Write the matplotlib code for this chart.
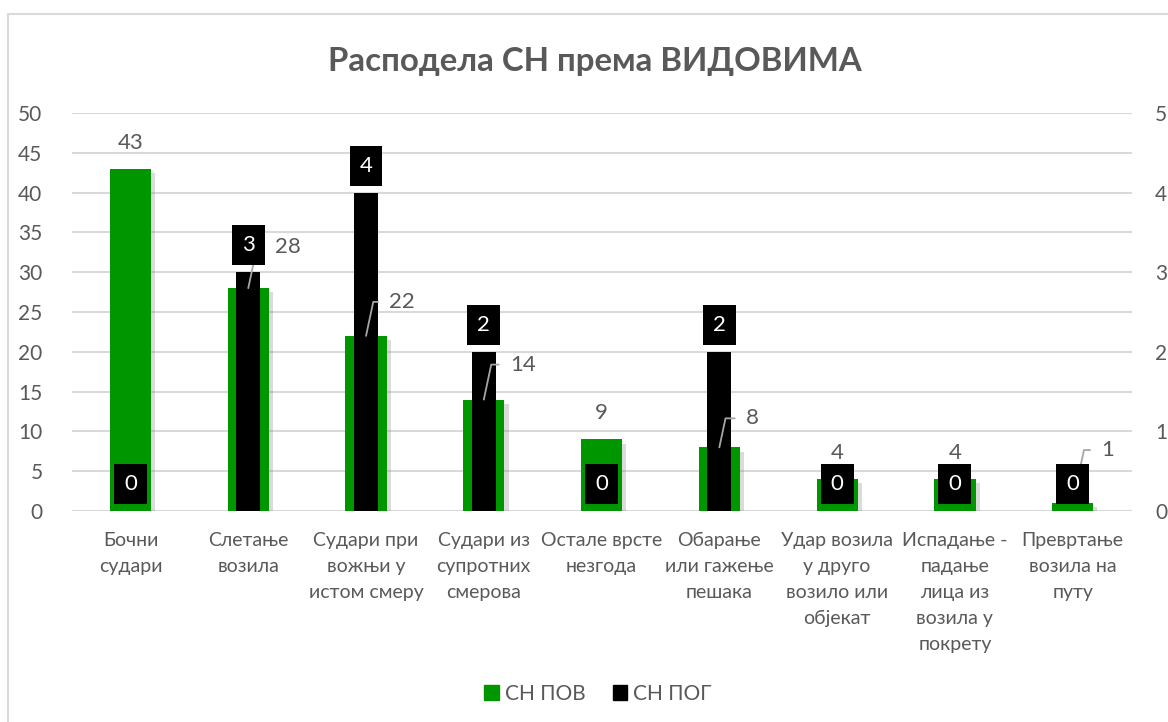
import numpy as np
import matplotlib
matplotlib.use("Agg")
import matplotlib.pyplot as plt
from matplotlib.patches import Patch, Rectangle
import matplotlib.patheffects as pe

# ---------- data ----------
categories = ["Бочни\nсудари", "Слетање\nвозила", "Судари при\nвожњи у\nистом смеру",
              "Судари из\nсупротних\nсмерова", "Остале врсте\nнезгода",
              "Обарање\nили гажење\nпешака", "Удар возила\nу друго\nвозило или\nобјекат",
              "Испадање -\nпадање\nлица из\nвозила у\nпокрету", "Превртање\nвозила на\nпуту"]
pov = [43, 28, 22, 14, 9, 8, 4, 4, 1]
pog = [0, 3, 4, 2, 0, 2, 0, 0, 0]
left_ticks = [0, 5, 10, 15, 20, 25, 30, 35, 40, 45, 50]
right_ticks = [0, 1, 2, 3, 4, 5]
series_names = ["СН ПОВ", "СН ПОГ"]

# label offsets (pixels) for green labels that got a leader line, None = plain label on top
leader_off = [None, (40, 41), (36, 34), (39, 35), None, (33, 29), None, None, (35, 53)]

GREEN = "#009600"
GRAY = "#595959"
GRID = "#d9d9d9"

plt.rcParams['font.family'] = ['Lato', 'DejaVu Sans']

fig = plt.figure(figsize=(11.68, 7.22), dpi=100)
ax = fig.add_axes([0.0613, 0.2922, 0.9075, 0.5513])
ax2 = ax.twinx()

x = np.arange(len(categories))

bars = ax.bar(x, pov, width=0.35, color=GREEN, zorder=2)
for b in bars:
    b.set_path_effects([pe.SimplePatchShadow(offset=(3, -3), shadow_rgbFace="#888888", alpha=0.3), pe.Normal()])

ax2.bar(x, pog, width=0.205, color="black", zorder=3)

ax.set_ylim(0, 50)
ax2.set_ylim(0, 5)
ax.set_xlim(-0.5, len(categories) - 0.5)
ax.set_yticks(left_ticks)
ax2.set_yticks(right_ticks)
ax.yaxis.grid(True, color=GRID, linewidth=1.5, zorder=0)
ax.set_axisbelow(True)
ax.set_xticks(x)
ax.set_xticklabels(categories, linespacing=1.64)
for a in (ax, ax2):
    for s in a.spines.values():
        s.set_visible(False)
    a.tick_params(length=0, labelsize=15, colors=GRAY)
ax.tick_params(axis='y', pad=21)
ax2.tick_params(axis='y', pad=17)
ax.tick_params(axis='x', pad=15, labelsize=14)

# green value labels
for i, v in enumerate(pov):
    off = leader_off[i]
    if off is None:
        ax2.annotate(str(v), xy=(i, v / 10), xytext=(0, 26), textcoords='offset pixels',
                     ha='center', va='center', fontsize=16, color=GRAY, zorder=5)
    else:
        ax2.annotate(str(v), xy=(i, v / 10), xytext=off, textcoords='offset pixels',
                     ha='center', va='center', fontsize=16, color=GRAY, zorder=4,
                     arrowprops=dict(arrowstyle='-', color="#a6a6a6", lw=1.3, shrinkA=6, shrinkB=0,
                                     connectionstyle='angle,angleA=0,angleB=78,rad=0'))

# black value labels
for i, v in enumerate(pog):
    ax2.annotate(str(v), xy=(i, v), xytext=(0, 27), textcoords='offset pixels',
                 ha='center', va='center', fontsize=16, color="white", zorder=6,
                 bbox=dict(boxstyle='square,pad=0.45', fc="black", ec="none"))

fig.text(0.509, 0.915, "Расподела СН према ВИДОВИМА", ha='center', va='center',
         fontsize=23.8, fontweight='bold', color=GRAY)

handles = [Patch(color=GREEN), Patch(color="black")]
fig.legend(handles, series_names, loc='center', bbox_to_anchor=(0.512, 1 - 694 / 722), ncol=2,
           frameon=False, fontsize=15, labelcolor=GRAY, handlelength=0.7, handleheight=0.7,
           handletextpad=0.3, columnspacing=1.3)

# chart border
fig.patches.append(Rectangle((8 / 1168, -0.1), 1.2, 1 - 14 / 722 + 0.1, transform=fig.transFigure,
                             fill=False, ec=GRID, lw=1.5))

fig.savefig("out.png", dpi=100)
